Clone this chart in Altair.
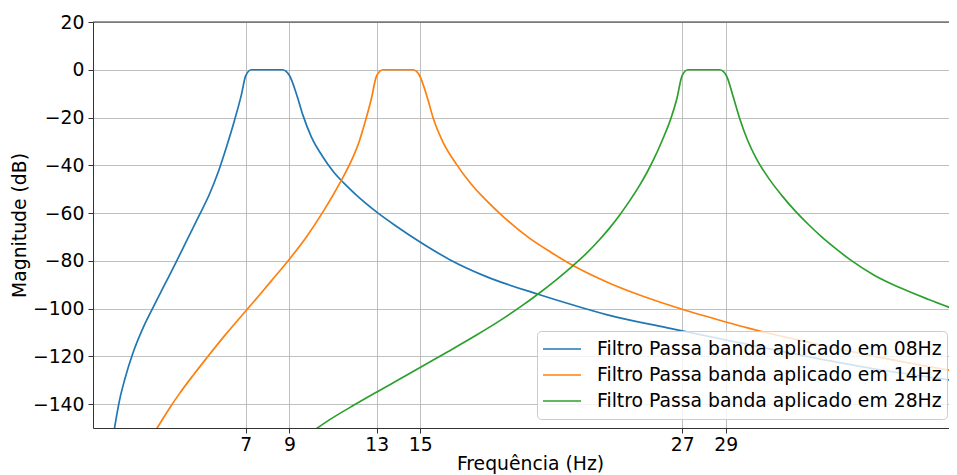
import altair as alt
import pandas as pd

labels = [
    "Filtro Passa banda aplicado em 08Hz",
    "Filtro Passa banda aplicado em 14Hz",
    "Filtro Passa banda aplicado em 28Hz",
]
colors = ["#1f77b4", "#ff7f0e", "#2ca02c"]

f_08 = [0.95, 0.99, 1.22, 1.45, 1.83, 2.29, 2.75, 3.3, 3.82, 4.35, 4.89, 5.35, 5.73, 6.11, 6.49, 6.8, 7.0,
        7.26, 8.0, 8.68, 9.01, 9.32, 9.62, 10.0, 10.5, 11.0, 11.5, 12.07, 12.99, 13.9, 14.97,
        16.35, 18.0, 20.4, 22.0, 23.53, 26.28, 30.0, 33.0, 36.0, 39.6]
db_08 = [-152, -149.8, -138.2, -129.8, -118.6, -108.2, -99.6, -89.7, -80.3, -70.5, -60.6, -51.8, -43, -32.5, -21, -10.5, -2.5,
         0, 0, 0, -2.5, -10, -19, -28, -36, -42.5, -47.5, -52.5, -59.5, -65.5, -72,
         -79.5, -86.5, -94, -98.5, -102.5, -108, -115, -120.5, -125.5, -130.3]

f_14 = [2.85, 2.98, 3.5, 3.97, 4.6, 5.2, 6.1, 7.03, 7.64, 8.3, 9.01, 9.78, 10.54, 11.31, 11.92, 12.2, 12.45, 12.76, 13.0,
        13.29, 14.0, 14.67, 14.97, 15.3, 15.6, 16.05, 16.65, 17.3, 18.0, 18.8, 20.0, 21.0,
        22.0, 23.7, 25.5, 27.0, 29.0, 30.0, 33.0, 36.0, 39.6]
db_14 = [-151.3, -149.4, -141.8, -135.5, -127.8, -120.8, -110.6, -100.7, -94.2, -87.0, -79.2, -70.0, -59.5, -47.5, -36.5, -30, -22.5, -12, -2.5,
         0, 0, 0, -2.5, -11, -20.5, -30.5, -39.5, -47.5, -54.5, -61.5, -70.5, -76.5,
         -82, -89.5, -95.8, -100.3, -105.6, -108.1, -114.5, -120.3, -126.4]

f_28 = [10.0, 10.85, 12.0, 12.99, 14.0, 14.97, 16.04, 17.5, 18.79, 19.6, 20.4, 21.2, 22.0, 22.6, 23.2, 23.7, 24.14,
        24.6, 25.05, 25.4, 25.66, 26.1, 26.5, 26.76, 27.0,
        27.27, 28.0, 28.72, 29.03, 29.33, 29.64, 30.0, 30.4, 31.01, 31.6, 32.2, 32.8, 33.46, 34.0, 34.68, 35.8, 36.97, 38.3, 39.6]
db_28 = [-151.8, -146.5, -140.2, -135, -129.8, -124.8, -119.2, -111.5, -104.2, -99.2, -93.9, -88.2, -82, -77, -71.3, -66, -60.8,
         -54.8, -48.4, -42.8, -38.2, -29.3, -20, -12, -2.5,
         0, 0, 0, -2.5, -11, -20.5, -29.5, -37.2, -46.0, -53.0, -59.3, -64.9, -70.5, -74.6, -79.4, -86.0, -91.2, -96.2, -100.7]

x_ticks = [7, 9, 13, 15, 27, 29]
y_ticks = [20, 0, -20, -40, -60, -80, -100, -120, -140]
y_top = [20]

frames = []
for lab, fs, dbs in zip(labels, [f_08, f_14, f_28], [db_08, db_14, db_28]):
    frames.append(pd.DataFrame({"f": fs, "db": dbs, "serie": lab, "i": range(len(fs))}))
df = pd.concat(frames, ignore_index=True)

FONT = "DejaVu Sans"
FS = 18.8
W, H = 856, 406
XMAX = 39.23

xscale = alt.Scale(domain=[0, XMAX], nice=False, zero=False)
yscale = alt.Scale(domain=[-150, 20], nice=False, zero=False)

lines = alt.Chart(df).mark_line(clip=True, strokeWidth=1.7, interpolate="monotone").encode(
    x=alt.X("f:Q", scale=xscale,
            axis=alt.Axis(values=x_ticks, title="Frequência (Hz)", format="d",
                          grid=True, gridColor="#b0b0b0", gridWidth=0.8,
                          tickSize=5, tickColor="#333", domainColor="#333",
                          labelFontSize=FS, titleFontSize=FS, labelFont=FONT, titleFont=FONT,
                          labelColor="#000", titleColor="#000", titleFontWeight="normal",
                          labelPadding=2, titlePadding=1, labelFlush=False, titleX=437)),
    y=alt.Y("db:Q", scale=yscale,
            axis=alt.Axis(values=y_ticks, title="Magnitude (dB)",
                          labelExpr="replace(datum.label, '-', '−')",
                          grid=True, gridColor="#b0b0b0", gridWidth=0.8,
                          tickSize=5, tickColor="#333", domainColor="#333",
                          labelFontSize=FS, titleFontSize=FS, labelFont=FONT, titleFont=FONT,
                          labelColor="#000", titleColor="#000", titleFontWeight="normal",
                          labelPadding=4, titlePadding=3, labelFlush=False)),
    color=alt.Color("serie:N", scale=alt.Scale(domain=labels, range=colors),
                    legend=alt.Legend(title=None, orient="none", legendX=444, legendY=309,
                                      symbolType="stroke", symbolSize=1444, symbolStrokeWidth=1.7,
                                      labelFontSize=FS, labelFont=FONT, labelColor="#000",
                                      labelOffset=15, rowPadding=0, padding=5, clipHeight=26,
                                      fillColor="rgba(255,255,255,0.8)", strokeColor="#cccccc",
                                      cornerRadius=4, labelLimit=500)),
    order="i:Q",
)

top_border = alt.Chart(pd.DataFrame({"y": y_top})).mark_rule(color="#333", strokeWidth=1).encode(
    y=alt.Y("y:Q", scale=yscale),
    x=alt.value(0),
    x2=alt.value(W),
)

chart = alt.layer(lines, top_border).properties(
    width=W, height=H,
    autosize=alt.AutoSizeParams(type="none"),
    padding={"left": 85, "top": 14, "right": 0, "bottom": 47},
).configure_view(stroke=None)

chart.save("out.html", embed_options={"renderer": "svg", "actions": False})
